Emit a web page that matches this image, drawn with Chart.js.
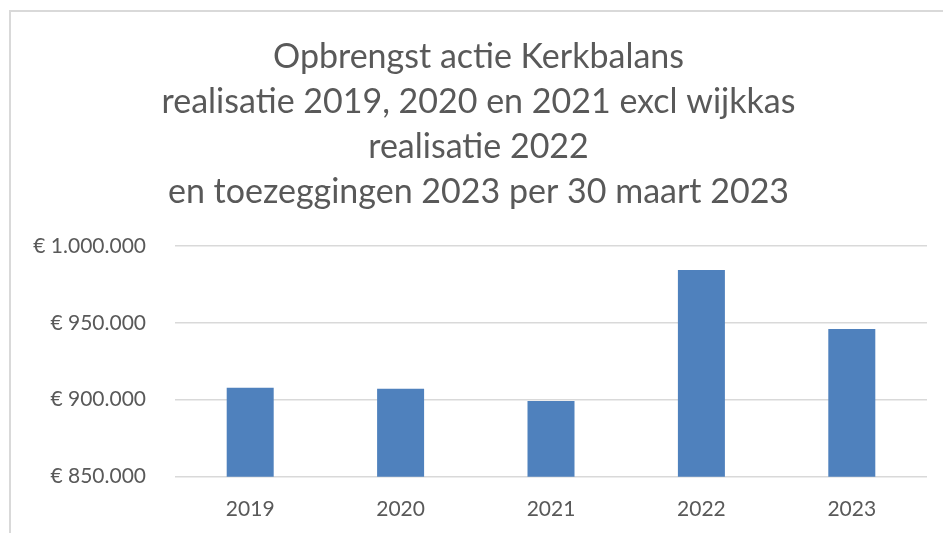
<!DOCTYPE html>
<html>
<head>
<meta charset="utf-8">
<script src="https://cdn.jsdelivr.net/npm/chart.js@4"></script>
<style>
  html, body { margin: 0; padding: 0; background: #fff; overflow: hidden; }
  #wrap { position: relative; width: 943px; height: 533px; }
  #frame {
    position: absolute; left: 9px; top: 10px; width: 1000px; height: 1000px;
    border-left: 2px solid #d9d9d9; border-top: 2px solid #d9d9d9;
  }
  #myChart { position: absolute; left: 0; top: 0; }
</style>
</head>
<body>
<div id="wrap">
  <div id="frame"></div>
  <canvas id="myChart" width="943" height="533"></canvas>
</div>
<script>
const titleLines = [
    'Opbrengst actie Kerkbalans',
    'realisatie 2019, 2020 en 2021 excl wijkkas',
    'realisatie 2022',
    'en toezeggingen 2023 per 30 maart 2023'
]
const years = ['2019', '2020', '2021', '2022', '2023']
const opbrengst = [907800, 907100, 899200, 984200, 945900]
const yTicks = [850000, 900000, 950000, 1000000]

const textGrey = '#595959'
const barBlue = '#4f81bd'

// 1000000 -> "€ 1.000.000"
const euro = (v) => '€ ' + String(v).replace(/\B(?=(\d{3})+(?!\d))/g, '.')

async function drawChart() {
    try {
        await document.fonts.load('34px Lato')
        await document.fonts.load('21px Lato')
    } catch (e) {
        console.log(e)
    }

    const ctx = document.querySelector('#myChart').getContext('2d')

    const chart = new Chart(ctx, {
        type: 'bar',
        data: {
            labels: years,
            datasets: [{
                label: 'Opbrengst',
                data: opbrengst,
                backgroundColor: barBlue,
                categoryPercentage: 1,
                barPercentage: 0.3125
            }]
        },
        options: {
            responsive: false,
            animation: false,
            // y labels get clipped at the scale's left edge, so keep this small
            layout: { padding: { left: 30, right: 16, top: 0, bottom: 0 } },
            plugins: {
                legend: { display: false },
                tooltip: { enabled: false },
                title: {
                    display: true,
                    text: titleLines,
                    color: textGrey,
                    font: { family: 'Lato', size: 34, weight: 'normal', lineHeight: 1.324 },
                    padding: { top: 34.5, bottom: 31.2 }
                }
            },
            scales: {
                x: {
                    grid: { display: false },
                    border: { display: false },
                    ticks: {
                        color: textGrey,
                        font: { family: 'Lato', size: 21 },
                        padding: 11.5
                    },
                    afterFit: (scale) => { scale.height = 56.3 }
                },
                y: {
                    min: 850000,
                    max: 1000000,
                    border: { display: false },
                    grid: { color: '#d9d9d9', lineWidth: 1.5, drawTicks: false },
                    afterBuildTicks: (scale) => {
                        scale.ticks = yTicks.map(v => ({ value: v }))
                    },
                    ticks: {
                        color: textGrey,
                        font: { family: 'Lato', size: 21 },
                        padding: 29,
                        callback: (v) => euro(v)
                    },
                    afterFit: (scale) => { scale.width = 145 }
                }
            }
        }
    })
}

drawChart()
</script>
</body>
</html>
